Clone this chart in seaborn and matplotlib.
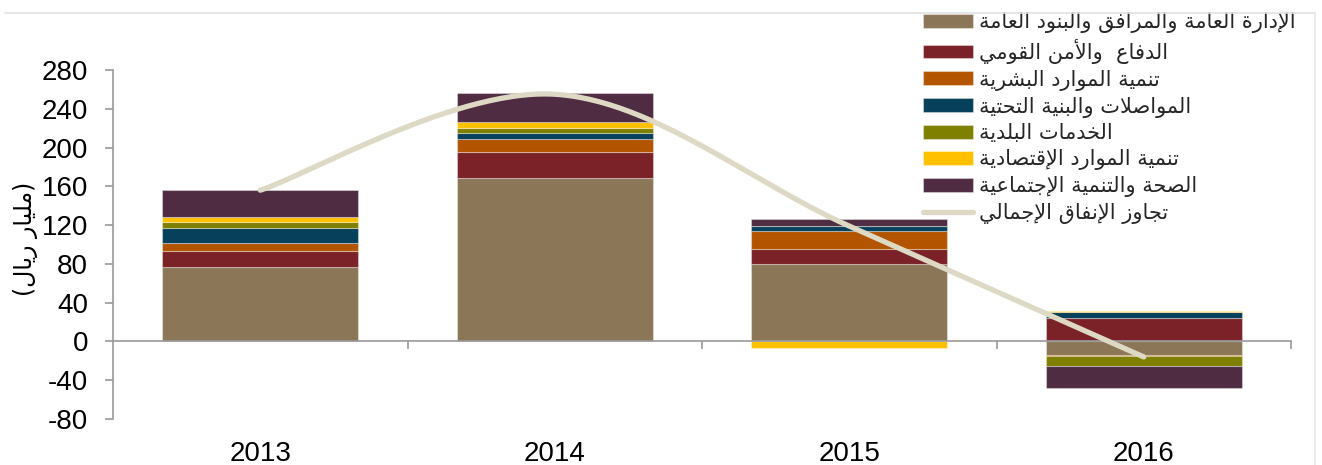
import numpy as np
import pandas as pd
import matplotlib
matplotlib.use("Agg")
import matplotlib.pyplot as plt
import seaborn as sns
from matplotlib.patches import Patch
from matplotlib.lines import Line2D

# ---------------- data ----------------
categories = ["2013", "2014", "2015", "2016"]
admin = [77, 169, 80, -14]          # الإدارة العامة والمرافق والبنود العامة
defense = [16.5, 26, 15.5, 24]      # الدفاع والأمن القومي
human = [8.3, 14, 18, -1]           # تنمية الموارد البشرية
transport = [15, 5.5, 5.5, 6.5]     # المواصلات والبنية التحتية
municipal = [6.5, 6, 0, -10]        # الخدمات البلدية
economic = [5, 6, -6.5, 1]          # تنمية الموارد الإقتصادية
health = [27.5, 29.5, 7, -23]       # الصحة والتنمية الإجتماعية
total_overrun = [156, 255, 119, -16]  # تجاوز الإنفاق الإجمالي
yticks = [-80, -40, 0, 40, 80, 120, 160, 200, 240, 280]

labels = [
    "الإدارة العامة والمرافق والبنود العامة",
    "الدفاع  والأمن القومي",
    "تنمية الموارد البشرية",
    "المواصلات والبنية التحتية",
    "الخدمات البلدية",
    "تنمية الموارد الإقتصادية",
    "الصحة والتنمية الإجتماعية",
]
line_label = "تجاوز الإنفاق الإجمالي"
ylabel = "(مليار ريال)"
colors = ["#8B7757", "#7B2128", "#B35500", "#06405A", "#7F7F00", "#FFC000", "#4F2C42"]
line_color = "#DDD9C4"

# ---------------- Arabic shaping (presentation forms + RTL) ----------------
_J4 = {'ئ': 0xFE89, 'ب': 0xFE8F, 'ت': 0xFE95, 'ث': 0xFE99, 'ج': 0xFE9D, 'ح': 0xFEA1,
       'خ': 0xFEA5, 'س': 0xFEB1, 'ش': 0xFEB5, 'ص': 0xFEB9, 'ض': 0xFEBD, 'ط': 0xFEC1,
       'ظ': 0xFEC5, 'ع': 0xFEC9, 'غ': 0xFECD, 'ف': 0xFED1, 'ق': 0xFED5, 'ك': 0xFED9,
       'ل': 0xFEDD, 'م': 0xFEE1, 'ن': 0xFEE5, 'ه': 0xFEE9, 'ي': 0xFEF1}
_J2 = {'آ': 0xFE81, 'أ': 0xFE83, 'ؤ': 0xFE85, 'إ': 0xFE87, 'ا': 0xFE8D, 'ة': 0xFE93,
       'د': 0xFEA9, 'ذ': 0xFEAB, 'ر': 0xFEAD, 'ز': 0xFEAF, 'و': 0xFEED, 'ى': 0xFEEF}
_J1 = {'ء': 0xFE80}
_LA = {'آ': 0xFEF5, 'أ': 0xFEF7, 'إ': 0xFEF9, 'ا': 0xFEFB}


def ar(text):
    out = []
    n = len(text)
    i = 0
    while i < n:
        c = text[i]
        prev = text[i - 1] if i > 0 else ''
        pj = prev in _J4
        if c == 'ل' and i + 1 < n and text[i + 1] in _LA:
            out.append(chr(_LA[text[i + 1]] + (1 if pj else 0)))
            i += 2
            continue
        nxt = text[i + 1] if i + 1 < n else ''
        nj = (nxt in _J4) or (nxt in _J2)
        if c in _J4:
            b = _J4[c]
            g = b + 3 if (pj and nj) else b + 1 if pj else b + 2 if nj else b
        elif c in _J2:
            b = _J2[c]
            g = b + 1 if pj else b
        elif c in _J1:
            g = _J1[c]
        else:
            out.append(c)
            i += 1
            continue
        out.append(chr(g))
        i += 1
    s = ''.join(reversed(out))
    return s.translate(str.maketrans('()', ')('))


# ---------------- figure ----------------
sns.set_theme(style="white")
plt.rcParams['font.family'] = ['Liberation Sans', 'DejaVu Sans']

fig = plt.figure(figsize=(13.22, 4.65), dpi=100)
ax = fig.add_axes([113 / 1322, 1 - 419 / 465, (1291 - 113) / 1322, (419 - 70) / 465])

series = [admin, defense, human, transport, municipal, economic, health]
pos_bottom = np.zeros(len(categories))
neg_bottom = np.zeros(len(categories))
for vals, col in zip(series, colors):
    v = np.array(vals, dtype=float)
    bottoms = np.where(v >= 0, pos_bottom, neg_bottom)
    df = pd.DataFrame({"year": categories, "value": v})
    sns.barplot(data=df, x="year", y="value", order=categories, bottom=bottoms,
                color=col, width=0.666, saturation=1, errorbar=None,
                edgecolor=(1, 1, 1, 0.35), linewidth=0.8, ax=ax, zorder=2)
    pos_bottom = pos_bottom + np.where(v > 0, v, 0)
    neg_bottom = neg_bottom + np.where(v < 0, v, 0)

# smoothed line (Catmull-Rom / Bezier through the data points)
px = np.arange(len(categories), dtype=float)
py = np.array(total_overrun, dtype=float)
P = np.column_stack([px, py])
curve = []
t = np.linspace(0, 1, 60)
for k in range(len(P) - 1):
    p0 = P[max(k - 1, 0)]
    p1 = P[k]
    p2 = P[k + 1]
    p3 = P[min(k + 2, len(P) - 1)]
    c1 = p1 + (p2 - p0) / 6
    c2 = p2 - (p3 - p1) / 6
    seg = ((1 - t) ** 3)[:, None] * p1 + (3 * (1 - t) ** 2 * t)[:, None] * c1 + \
          (3 * (1 - t) * t ** 2)[:, None] * c2 + (t ** 3)[:, None] * p2
    curve.append(seg)
curve = np.vstack(curve)
ax.plot(curve[:, 0], curve[:, 1], color=line_color, lw=3.8, solid_capstyle='round', zorder=4)

# axes styling
ax.set_xlim(-0.5, 3.5)
ax.set_ylim(-80, 280)
ax.set_yticks(yticks)
ax.set_yticklabels([str(v) for v in yticks])
ax.set_xticks([0.5, 1.5, 2.5, 3.5])
ax.set_xticklabels([])
ax.set_xticks([0, 1, 2, 3], minor=True)
ax.set_xticklabels(categories, minor=True)
ax.set_xlabel("")
ax.set_ylabel("")
spine_c = "#9A9A9A"
for s in ["top", "right"]:
    ax.spines[s].set_visible(False)
ax.spines["left"].set_color(spine_c)
ax.spines["left"].set_linewidth(1.2)
ax.spines["left"].set_bounds(-80, 280)
ax.spines["bottom"].set_position(("data", 0))
ax.spines["bottom"].set_color(spine_c)
ax.spines["bottom"].set_linewidth(1.2)
ax.spines["bottom"].set_zorder(3)
ax.tick_params(axis="y", which="major", direction="out", length=6, width=1.2,
               color=spine_c, pad=12, labelsize=20, labelcolor="black", left=True)
ax.tick_params(axis="x", which="major", direction="out", length=6, width=1.2,
               color=spine_c, bottom=True)
ax.tick_params(axis="x", which="minor", length=0, pad=72, labelsize=20,
               labelcolor="black", bottom=True)
ax.grid(False)

fig.text(25 / 1322, 1 - 239 / 465, ar(ylabel), rotation=90, ha="center", va="center",
         fontsize=17, family=["DejaVu Sans"], color="black")

# legend
handles = [Patch(facecolor=c, edgecolor=(1, 1, 1, 0.35), linewidth=0.8) for c in colors]
handles.append(Line2D([0], [0], color=line_color, lw=3.8, solid_capstyle='round'))
leg = ax.legend(handles, [ar(l) for l in labels] + [ar(line_label)],
                loc="upper left", bbox_to_anchor=(923 / 1322, 1 - 12 / 465),
                bbox_transform=fig.transFigure, frameon=False,
                prop={"family": ["DejaVu Sans"], "size": 15},
                handlelength=2.4, handleheight=0.65, handletextpad=0.3,
                labelspacing=0.28, borderpad=0.0, borderaxespad=0.0)
leg.set_zorder(6)

# faint chart border lines
fig.add_artist(Line2D([5 / 1322, 1315 / 1322], [1 - 13 / 465, 1 - 13 / 465],
                      transform=fig.transFigure, color="#E2E2E2", lw=1.2))
fig.add_artist(Line2D([1315 / 1322, 1315 / 1322], [1 - 13 / 465, 0],
                      transform=fig.transFigure, color="#E8E8E8", lw=1.2))

fig.savefig("out.png", dpi=100)
